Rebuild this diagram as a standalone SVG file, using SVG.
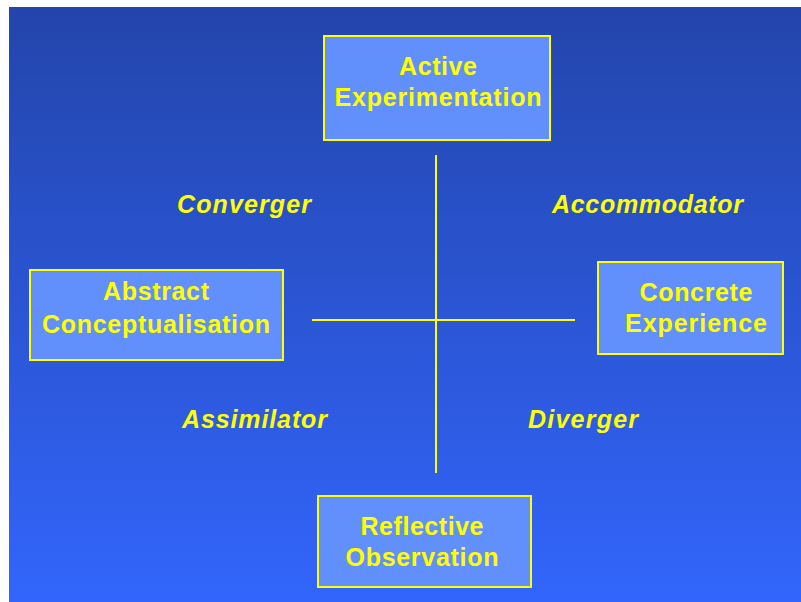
<svg xmlns="http://www.w3.org/2000/svg" width="801" height="602" viewBox="0 0 801 602">
<defs>
<linearGradient id="bg" x1="0" y1="0" x2="0" y2="1">
<stop offset="0" stop-color="#2345ab"/>
<stop offset="1" stop-color="#3265fb"/>
</linearGradient>
<style>
.box{fill:#6190fc;stroke:#ffff00;stroke-width:2}
.t{font-family:"Liberation Sans",Arial,sans-serif;font-weight:bold;font-size:25px;fill:#ffff00;text-anchor:middle}
.i{font-family:"Liberation Sans",Arial,sans-serif;font-weight:bold;font-style:italic;font-size:25px;fill:#ffff00}
.ln{stroke:#ffff00;stroke-width:2;fill:none}
</style>
</defs>
<rect x="0" y="0" width="801" height="602" fill="#ffffff"/>
<rect x="9" y="7" width="792" height="595" fill="url(#bg)"/>
<g id="connectors">
<line class="ln" x1="436" y1="155" x2="436" y2="473"/>
<line class="ln" x1="312" y1="320" x2="575" y2="320"/>
</g>
<g id="active">
<rect class="box" x="324" y="36" width="226" height="104"/>
<text class="t" x="438" y="75" textLength="78" lengthAdjust="spacing">Active</text>
<text class="t" x="438" y="106" textLength="207" lengthAdjust="spacing">Experimentation</text>
</g>
<g id="abstract">
<rect class="box" x="30" y="270" width="253" height="90"/>
<text class="t" x="156" y="300" textLength="106" lengthAdjust="spacing">Abstract</text>
<text class="t" x="156" y="333" textLength="228" lengthAdjust="spacing">Conceptualisation</text>
</g>
<g id="concrete">
<rect class="box" x="598" y="262" width="185" height="92"/>
<text class="t" x="696" y="301" textLength="113" lengthAdjust="spacing">Concrete</text>
<text class="t" x="696" y="332" textLength="142" lengthAdjust="spacing">Experience</text>
</g>
<g id="reflective">
<rect class="box" x="318" y="496" width="213" height="91"/>
<text class="t" x="422" y="535" textLength="123" lengthAdjust="spacing">Reflective</text>
<text class="t" x="422" y="566" textLength="153" lengthAdjust="spacing">Observation</text>
</g>
<g id="labels">
<text class="i" x="177" y="213" textLength="134" lengthAdjust="spacing">Converger</text>
<text class="i" x="552" y="213" textLength="191" lengthAdjust="spacing">Accommodator</text>
<text class="i" x="182" y="428" textLength="145" lengthAdjust="spacing">Assimilator</text>
<text class="i" x="528" y="428" textLength="110" lengthAdjust="spacing">Diverger</text>
</g>
</svg>
